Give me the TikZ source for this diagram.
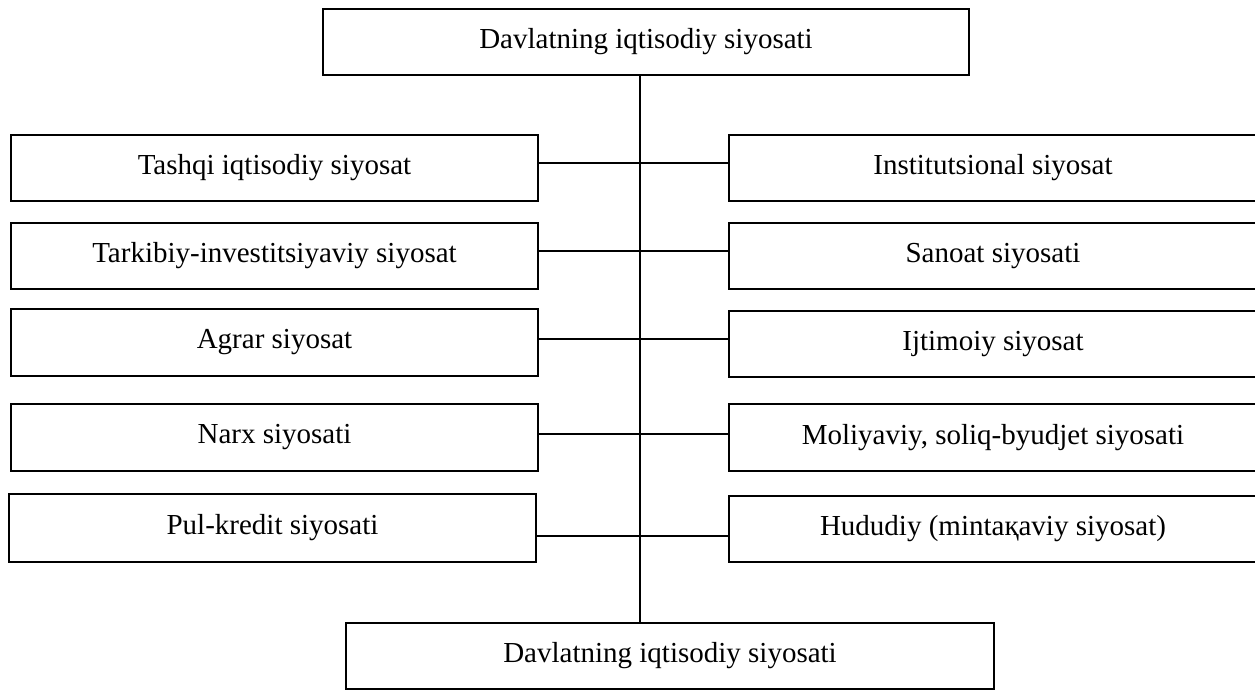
\documentclass[tikz,border=0pt]{standalone}
\usepackage{fontspec}
\setmainfont{Liberation Serif}
\begin{document}
\begin{tikzpicture}[x=1pt,y=-1pt,
  box/.style={draw, line width=1.5pt, inner sep=0pt, font=\fontsize{29}{34}\selectfont},
  link/.style={line width=1.5pt}]
\useasboundingbox (0,0) rectangle (1255,691);
% top and bottom
\node[box, minimum width=646pt, minimum height=66pt] (top) at (646,42) {Davlatning iqtisodiy siyosati};
\node[box, minimum width=648pt, minimum height=66pt] (bot) at (670,656) {Davlatning iqtisodiy siyosati};
% left column
\node[box, minimum width=527pt, minimum height=66pt] (L1) at (274.5,168) {Tashqi iqtisodiy siyosat};
\node[box, minimum width=527pt, minimum height=66pt] (L2) at (274.5,256) {Tarkibiy-investitsiyaviy siyosat};
\node[box, minimum width=527pt, minimum height=67pt] (L3) at (274.5,342.5) {Agrar siyosat};
\node[box, minimum width=527pt, minimum height=67pt] (L4) at (274.5,437.5) {Narx siyosati};
\node[box, minimum width=527pt, minimum height=68pt] (L5) at (272.5,528) {Pul-kredit siyosati};
% right column
\node[box, minimum width=528pt, minimum height=66pt] (R1) at (993,168) {Institutsional siyosat};
\node[box, minimum width=528pt, minimum height=66pt] (R2) at (993,256) {Sanoat siyosati};
\node[box, minimum width=528pt, minimum height=66pt] (R3) at (993,344) {Ijtimoiy siyosat};
\node[box, minimum width=528pt, minimum height=67pt] (R4) at (993,437.5) {Moliyaviy, soliq-byudjet siyosati};
\node[box, minimum width=528pt, minimum height=66pt] (R5) at (993,529) {Hududiy (minta\char"049B aviy siyosat)};
% spine
\coordinate (s) at (640,0);
\draw[link] (top.south -| s) -- (bot.north -| s);
% branches
\coordinate (h1) at (640,163);
\coordinate (h2) at (640,251);
\coordinate (h3) at (640,339);
\coordinate (h4) at (640,434);
\coordinate (h5) at (640,536);
\draw[link] (L1.east |- h1) -- (R1.west |- h1);
\draw[link] (L2.east |- h2) -- (R2.west |- h2);
\draw[link] (L3.east |- h3) -- (R3.west |- h3);
\draw[link] (L4.east |- h4) -- (R4.west |- h4);
\draw[link] (L5.east |- h5) -- (R5.west |- h5);
\end{tikzpicture}
\end{document}
